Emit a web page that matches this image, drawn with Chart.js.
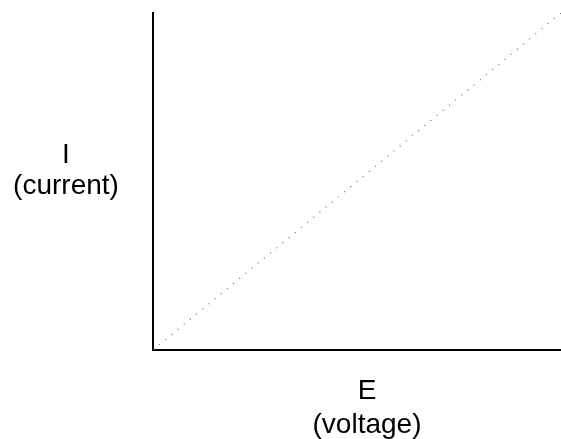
<!DOCTYPE html>
<html>
<head>
<meta charset="utf-8">
<script src="https://cdn.jsdelivr.net/npm/chart.js@4"></script>
<style>
  html, body { margin: 0; padding: 0; background: #fff; }
  #wrap { width: 561px; height: 439px; }
</style>
</head>
<body>
<div id="wrap"><canvas id="ohm"></canvas></div>
<script>
// line data (E vs I, straight proportional line)
const voltage = [0, 10];
const current = [0, 10];

// axis labels
const xLabel = ['E', '(voltage)'];
const yLabel = ['I', '(current)'];

const points = voltage.map((v, i) => ({x: v, y: current[i]}));

// draws the two stacked axis labels, horizontal on both axes
const axisLabels = {
  id: 'axisLabels',
  afterDraw(chart) {
    const {ctx, chartArea} = chart;
    ctx.save();
    ctx.fillStyle = '#000';
    ctx.font = '28px "Liberation Sans", Arial, sans-serif';
    ctx.textAlign = 'center';
    ctx.textBaseline = 'alphabetic';
    // y label, left of the axis
    ctx.fillText(yLabel[0], 66, 163);
    ctx.fillText(yLabel[1], 66, 194);
    // x label, under the axis
    const xx = chartArea.left + 214;
    ctx.fillText(xLabel[0], xx, chartArea.bottom + 49);
    ctx.fillText(xLabel[1], xx, chartArea.bottom + 83);
    ctx.restore();
  }
};

new Chart(document.getElementById('ohm'), {
  type: 'line',
  data: {
    datasets: [{
      data: points,
      borderColor: '#6e6e6e',
      borderWidth: 1.2,
      borderDash: [1, 7],
      pointRadius: 0,
      fill: false
    }]
  },
  options: {
    responsive: true,
    maintainAspectRatio: false,
    animation: false,
    layout: {
      padding: {left: 145, top: 13, right: 0, bottom: 81}
    },
    scales: {
      x: {
        type: 'linear',
        min: 0,
        max: 10,
        ticks: {display: false},
        grid: {display: false},
        border: {display: true, color: '#000', width: 2}
      },
      y: {
        type: 'linear',
        min: 0,
        max: 10,
        ticks: {display: false},
        grid: {display: false},
        border: {display: true, color: '#000', width: 2}
      }
    },
    plugins: {
      legend: {display: false},
      tooltip: {enabled: false}
    }
  },
  plugins: [axisLabels]
});
</script>
</body>
</html>
